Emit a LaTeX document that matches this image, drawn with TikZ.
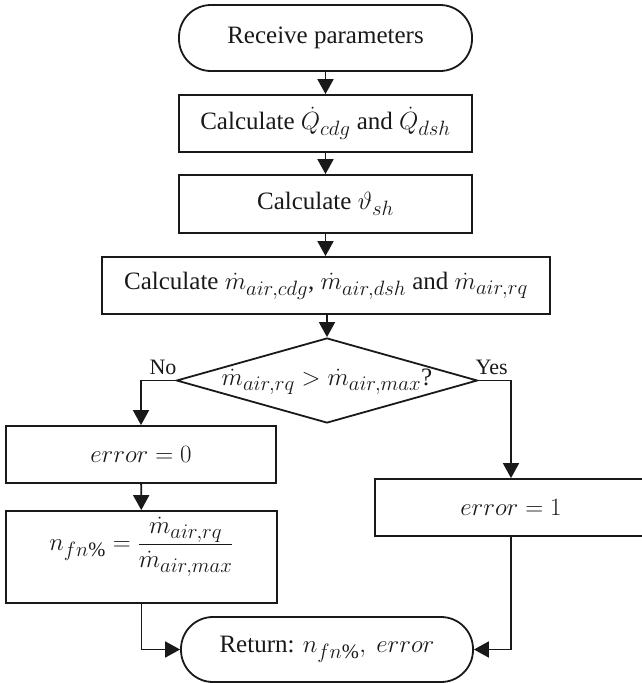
\documentclass[tikz,border=0pt]{standalone}
\usepackage{fontspec}
\setmainfont{Liberation Serif}
\usetikzlibrary{shapes.geometric,arrows.meta}
% slightly larger math and sub/superscripts for the 25pt body size
\DeclareMathSizes{25}{26}{20.5}{15}

\begin{document}
\begin{tikzpicture}[x=1pt,y=-1pt,
  every node/.style={font=\fontsize{25}{30}\selectfont, text=black!90},
  ink/.style={draw=black!90, line width=1.8pt},
  procbox/.style={ink, rectangle, inner sep=0pt},
  termbox/.style={ink, rectangle, rounded corners=32pt, inner sep=0pt},
  decbox/.style={ink, diamond, inner sep=0pt},
  plain/.style={inner sep=0pt},
  lab/.style={inner sep=0pt, font=\fontsize{22}{26}\selectfont},
  flow/.style={ink, -{Triangle[length=15pt,width=16pt]}}
]
\useasboundingbox (0,0) rectangle (642,683);
\clip (0,0) rectangle (642,683);

% process chain
\node[termbox, minimum width=293pt, minimum height=66pt] (start) at (325.5,38) {Receive parameters};
\node[procbox, minimum width=293pt, minimum height=57pt] (heat) at (325.5,123.5)
  {Calculate $\dot Q_{cdg}$ and $\dot Q_{dsh}$};
\node[procbox, minimum width=293pt, minimum height=58pt] (temp) at (325.5,204)
  {Calculate $\vartheta_{sh}$};
\node[procbox, minimum width=448pt, minimum height=57pt] (air) at (326,285.5)
  {Calculate $\dot m_{air,cdg}$, $\dot m_{air,dsh}$ and $\dot m_{air,rq}$};

% decision
\node[decbox, minimum width=301pt, minimum height=85pt] (dia) at (327,380.5) {};
\node[plain] (diatext) at ([yshift=-1pt]dia.center) {$\dot m_{air,rq} > \dot m_{air,max}$?};
\node[lab, anchor=base east] (nolab) at ([xshift=1pt,yshift=6pt]dia.west) {No};
\node[lab, anchor=base west] (yeslab) at ([xshift=-3pt,yshift=6pt]dia.east) {Yes};

% branches
\node[procbox, minimum width=270pt, minimum height=57pt] (err0) at (141,454.5) {$error = 0$};
\node[procbox, minimum width=271pt, minimum height=92pt] (nfn) at (141.5,557) {};
\node[plain] (nfntext) at ([yshift=10pt]nfn.center)
  {$\displaystyle n_{fn\%} = \frac{\dot m_{air,rq}}{\dot m_{air,max}}$};
\node[procbox, minimum width=272pt, minimum height=57pt] (err1) at (511,507.5) {$error = 1$};

% end
\node[termbox, minimum width=292pt, minimum height=65pt] (endt) at (327,649.5)
  {Return: $n_{fn\%},\ error$};

% connectors
\draw[flow] (start) -- (heat);
\draw[flow] (heat) -- (temp);
\draw[flow] (temp) -- (air.north -| temp.south);
\draw[flow] (air.south -| dia.north) -- (dia.north);
\draw[flow] (dia.west) -| (err0.north);
\draw[flow] (dia.east) -| (err1.north);
\draw[flow] (err0) -- (nfn);
\draw[flow] (nfn.south) |- (endt.west);
\draw[flow] (err1.south) |- (endt.east);
\end{tikzpicture}
\end{document}
